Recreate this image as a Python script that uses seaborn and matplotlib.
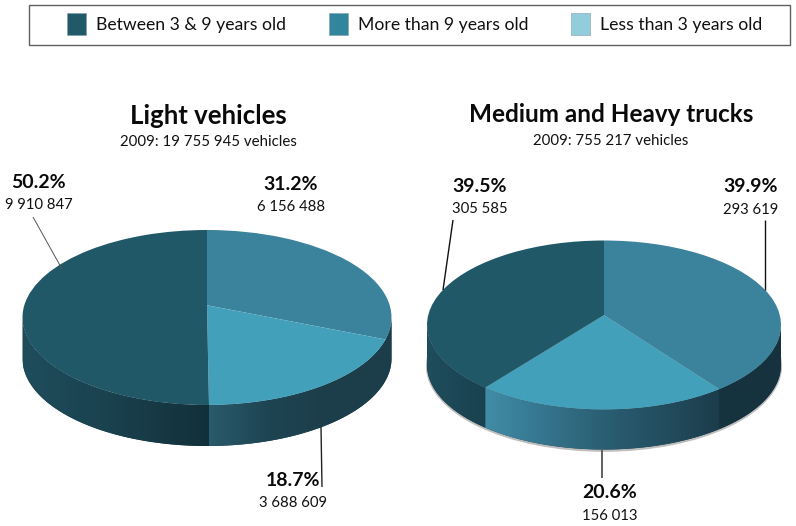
import numpy as np
import matplotlib
matplotlib.use("Agg")
import matplotlib.pyplot as plt
from matplotlib.colors import LinearSegmentedColormap
from matplotlib.patches import Patch, Polygon, Rectangle, Ellipse
import seaborn as sns

sns.set_theme(style="white")
plt.rcParams['font.family'] = ['Lato', 'DejaVu Sans']

# data
legend_labels = ["Between 3 & 9 years old", "More than 9 years old", "Less than 3 years old"]
legend_colors = ["#215968", "#31859C", "#92CDDC"]
slice_names = ["More than 9 years old", "Less than 3 years old", "Between 3 & 9 years old"]
light_pct = [31.2, 18.7, 50.2]
light_counts = ["6 156 488", "3 688 609", "9 910 847"]
heavy_pct = [39.9, 20.6, 39.5]
heavy_counts = ["293 619", "156 013", "305 585"]
top_colors = ["#3B829C", "#43A0BB", "#215868"]

W, H = 796, 526
fig = plt.figure(figsize=(W / 100, H / 100), dpi=100, facecolor="white")


def project(x, y, a):
    """Perspective tilt of the unit disc: keeps the rim, moves the centre up by a."""
    d = 1 + a * y
    return x * np.sqrt(1 - a * a) / d, (y + a) / d


def draw_pie(values, cx, cy, rx, ry, depth, apex, wall_grads, shadow=False):
    d = depth / ry
    ax = fig.add_axes([(cx - rx - 12) / W, 1 - (cy + ry + depth + 12) / H,
                       (2 * rx + 24) / W, (2 * ry + depth + 24) / H])
    wedges, _ = ax.pie(values, startangle=90, counterclock=False, colors=top_colors,
                       radius=1, center=(0, 0), frame=False,
                       wedgeprops=dict(linewidth=0, zorder=5))
    ax.set_aspect("auto")
    ax.axis("off")
    if shadow:
        ax.add_patch(Ellipse((0, -d - 0.012), 2.012, 2.03, fc="#BDBDBD", ec="none", zorder=1))
    # dark backing so that no seam shows between the wall sections
    rim = np.radians(np.linspace(180, 360, 200))
    ax.fill(np.r_[np.cos(rim), np.cos(rim)[::-1]],
            np.r_[np.sin(rim), np.sin(rim)[::-1] - d],
            color="#1B3C48", lw=0, zorder=2)
    for w, grad in zip(wedges, wall_grads):
        t = np.radians(np.linspace(w.theta1, w.theta2, 400))
        px, py = project(np.cos(t), np.sin(t), apex)
        keep = py <= 0.0
        px, py = px[keep], py[keep]
        if len(px) < 2:
            continue
        poly = np.vstack([np.c_[px, py], np.c_[px[::-1], py[::-1] - d]])
        x0, x1 = px.min(), px.max()
        cmap = LinearSegmentedColormap.from_list("w", grad)
        im = ax.imshow(np.linspace(0, 1, 256)[None, :], extent=[x0, x1, -1 - d, 0],
                       cmap=cmap, aspect="auto", zorder=3, interpolation="bilinear")
        im.set_clip_path(Polygon(poly, closed=True, transform=ax.transData))
    ax.set_xlim(-1 - 12 / rx, 1 + 12 / rx)
    ax.set_ylim(-1 - d - 12 / ry, 1 + 12 / ry)
    for w in wedges:
        p = w.get_path()
        vx, vy = project(p.vertices[:, 0], p.vertices[:, 1], apex)
        p.vertices = np.c_[vx, vy]
    return ax


draw_pie(light_pct, 207, 317.5, 184.5, 87.5, 41, 0.14,
         [["#1C3D49", "#1C3D49"],
          ["#2A5A6B", "#1E4452", "#1C3E4A", "#1C3E4A"],
          ["#1F4D5C", "#1A404D", "#12303A"]])
draw_pie(heavy_pct, 604, 325, 177, 84.5, 40, 0.118,
         [["#163340", "#16323E"],
          ["#418CA7", "#2A5F74", "#1C3D4C"],
          ["#1F4D5C", "#1A4150"]],
         shadow=True)

# overlay in reference pixel coordinates for frame, leader lines and labels
ov = fig.add_axes([0, 0, 1, 1], zorder=10)
ov.set_xlim(0, W)
ov.set_ylim(H, 0)
ov.axis("off")
ov.patch.set_alpha(0)
ov.add_patch(Rectangle((28.5, 4.5), 761, 40.5, fill=False, ec="#606060", lw=1.0))

handles = [Patch(fc=c, ec="#7F9FA8", lw=0.4) for c in legend_colors]
fig.legend(handles, legend_labels, ncol=3, frameon=False, loc="center left",
           bbox_to_anchor=(51 / W, 1 - 24 / H), fontsize=12.7,
           handlelength=1.1, handleheight=1.55, handletextpad=0.55,
           columnspacing=2.42, labelcolor="#111111")

for seg, col, lw in [(((33, 217), (62, 269)), "#555555", 0.7),
                     (((321, 427), (322, 487)), "#222222", 1.0),
                     (((453, 220), (443, 290)), "#111111", 1.0),
                     (((765, 220), (765, 290)), "#111111", 1.0),
                     (((602, 450), (602, 478)), "#555555", 1.3)]:
    ov.plot([seg[0][0], seg[1][0]], [seg[0][1], seg[1][1]], color=col, lw=lw, solid_capstyle="butt")


def title(x, y, main, sub, size):
    ov.text(x, y, main, ha="center", va="center", fontsize=size, fontweight="bold", color="#0a0a0a")
    ov.text(x, y + 26, sub, ha="center", va="center", fontsize=10.8, color="#111111")


title(208, 116, "Light vehicles", "2009: 19 755 945 vehicles", 18.5)
title(611, 115, "Medium and Heavy trucks", "2009: 755 217 vehicles", 17.5)


def lab(x, y, pct, count):
    ov.text(x, y, f"{pct}%", ha="center", va="center", fontsize=14, fontweight="bold", color="#0a0a0a")
    ov.text(x, y + 23, count, ha="center", va="center", fontsize=10.7, color="#111111")


lab(291, 184, light_pct[0], light_counts[0])
lab(293, 480, light_pct[1], light_counts[1])
lab(39, 182, light_pct[2], light_counts[2])
lab(751, 187, heavy_pct[0], heavy_counts[0])
lab(610, 493, heavy_pct[1], heavy_counts[1])
lab(480, 186, heavy_pct[2], heavy_counts[2])

fig.savefig("out.png", dpi=100, facecolor="white")
